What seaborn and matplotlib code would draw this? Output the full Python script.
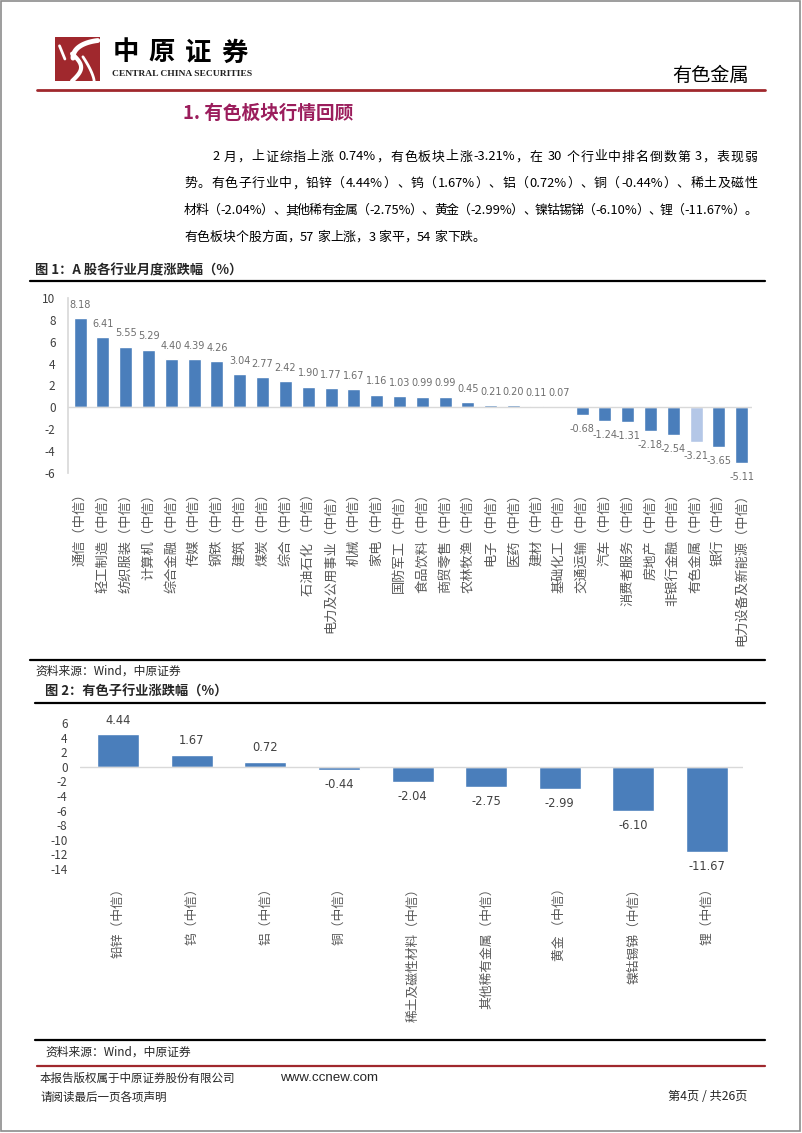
import re
import numpy as np
import pandas as pd
import matplotlib
matplotlib.use('Agg')
import matplotlib.pyplot as plt
import seaborn as sns
from matplotlib.patches import Rectangle

# 图1 数据
industry = ['通信', '轻工制造', '纺织服装', '计算机', '综合金融', '传媒', '钢铁', '建筑', '煤炭', '综合',
            '石油石化 ', '电力及公用事业', '机械', '家电', '国防军工', '食品饮料', '商贸零售', '农林牧渔',
            '电子', '医药', '建材', '基础化工', '交通运输', '汽车', '消费者服务', '房地产', '非银行金融',
            '有色金属', '银行', '电力设备及新能源']
industry_chg = [8.18, 6.41, 5.55, 5.29, 4.40, 4.39, 4.26, 3.04, 2.77, 2.42, 1.90, 1.77, 1.67, 1.16, 1.03,
                0.99, 0.99, 0.45, 0.21, 0.20, 0.11, 0.07, -0.68, -1.24, -1.31, -2.18, -2.54, -3.21, -3.65, -5.11]
highlight = '有色金属'

# 图2 数据
sub_industry = ['铅锌', '钨', '铝', '铜', '稀土及磁性材料', '其他稀有金属', '黄金 ', '镍钴锡锑', '锂']
sub_chg = [4.44, 1.67, 0.72, -0.44, -2.04, -2.75, -2.99, -6.10, -11.67]

W, H = 802, 1133
BLUE = '#4A7EBB'
LIGHT = '#B4C7E7'
RED = '#A0282D'
GREY_LINE = '#D9D9D9'

sns.set_theme(style='white')
plt.rcParams['font.family'] = ['Noto Sans CJK SC', 'DejaVu Sans']
plt.rcParams['axes.unicode_minus'] = False

fig = plt.figure(figsize=(W / 100, H / 100), dpi=100)
renderer = fig.canvas.get_renderer()


def fx(x):
    return x / W


def fy(y):
    return 1 - y / H


def hline(y, x0, x1, color, lw):
    fig.add_artist(plt.Line2D([fx(x0), fx(x1)], [fy(y), fy(y)], color=color, lw=lw))


def text_width(s, fs):
    t = fig.text(0, 0, 'x' + s + 'x', fontsize=fs)
    w = t.get_window_extent(renderer).width
    t.remove()
    t = fig.text(0, 0, 'xx', fontsize=fs)
    w -= t.get_window_extent(renderer).width
    t.remove()
    return w


def justify(x0, x1, y, line, fs, stretch=True):
    tokens = re.findall(r'[A-Za-z0-9.%\-]+|\s|.', line)
    widths = [text_width(tk, fs) for tk in tokens]
    extra = (x1 - x0 - sum(widths)) / (len(tokens) - 1) if stretch else 0
    x = x0
    for tk, w in zip(tokens, widths):
        if not tk.isspace():
            fig.text(fx(x), fy(y), tk, fontsize=fs, va='center', ha='left', color='black')
        x += w + extra


# 页面边框
fig.add_artist(Rectangle((fx(1), fy(1131)), fx(799), 1130 / H, fill=False, ec='#8C8C8C', lw=1.2))

# logo
lax = fig.add_axes([fx(55), fy(81), fx(45), 44 / H])
lax.set_xlim(0, 1)
lax.set_ylim(0, 1)
lax.axis('off')
lax.add_patch(Rectangle((0, 0), 1, 1, color=RED))
t = np.linspace(0, 1, 50)
lax.plot(0.95 - 0.55 * np.sin(t * np.pi / 2), 0.92 - 0.3 * t ** 2 - 0.1 * t, color='white', lw=3.5)
lax.plot(0.38 + 0.2 * np.sin(t * np.pi), 0.62 - 0.62 * t, color='white', lw=3)
lax.plot(0.62 + 0.25 * (1 - t), 0.0 + 0.55 * t ** 0.7, color='white', lw=2)
lax.plot(0.1 + 0.12 * t, 0.8 - 0.3 * t, color='white', lw=2)

for i, ch in enumerate('中原证券'):
    fig.text(fx(126 + 36 * i), fy(53), ch, fontsize=19, fontweight='bold', ha='center', va='center',
             color='black')
fig.text(fx(112), fy(74), 'CENTRAL CHINA SECURITIES', fontsize=6.8, fontweight='bold',
         family='Liberation Serif', va='center', color='#222222')
fig.text(fx(749), fy(75), '有色金属', fontsize=13.8, ha='right', va='center', color='black')
hline(89.5, 37, 765, RED, 2)

# 标题与正文
fig.text(fx(183), fy(113), '1. 有色板块行情回顾', fontsize=13.4, fontweight='bold', va='center',
         color='#9B1D5C')
para = [
    (212, '2 月，上证综指上涨 0.74%，有色板块上涨-3.21%，在 30 个行业中排名倒数第 3，表现弱'),
    (184, '势。有色子行业中，铅锌（4.44%）、钨（1.67%）、铝（0.72%）、铜（-0.44%）、稀土及磁性'),
    (184, '材料（-2.04%）、其他稀有金属（-2.75%）、黄金（-2.99%）、镍钴锡锑（-6.10%）、锂（-11.67%）。'),
    (184, '有色板块个股方面，57 家上涨，3 家平，54 家下跌。'),
]
for k, (x0, line) in enumerate(para):
    justify(x0, 757, 157 + 26.7 * k, line, 9.3, stretch=(k < 3))

# 图1
fig.text(fx(35), fy(270), '图 1：A 股各行业月度涨跌幅（%）', fontsize=9.5, fontweight='bold', va='center')
hline(281, 30, 765, 'black', 1.6)

df1 = pd.DataFrame({'industry': [s + '（中信）' for s in industry], 'chg': industry_chg})
pal1 = {s + '（中信）': (LIGHT if s == highlight else BLUE) for s in industry}
ax1 = fig.add_axes([fx(68), fy(473), fx(752 - 68), 175 / H])
sns.barplot(data=df1, x='industry', y='chg', hue='industry', palette=pal1, legend=False,
            width=0.57, saturation=1, ax=ax1)
ax1.set_xlim(-0.53, 29.45)
ax1.set_ylim(-6, 10)
ax1.set_yticks(range(-6, 11, 2))
ax1.axhline(0, color=GREY_LINE, lw=1)
for s in ['top', 'right', 'bottom']:
    ax1.spines[s].set_visible(False)
ax1.spines['left'].set_color(GREY_LINE)
ax1.tick_params(axis='y', length=0, pad=9, labelsize=8.5, labelcolor='#404040')
ax1.tick_params(axis='x', length=0, pad=10, labelsize=9.5, labelcolor='#595959')
ax1.set_xticks(range(len(industry)))
ax1.set_xticklabels(df1['industry'], rotation=90, va='top', ha='center')
ax1.set_xlabel('')
ax1.set_ylabel('')
for i, v in enumerate(industry_chg):
    ax1.annotate(f'{v:.2f}', (i, v), xytext=(0, 9.5 if v >= 0 else -10), textcoords='offset points',
                 ha='center', va='center', fontsize=7, color='#6E6E6E', family='DejaVu Sans')

fig.text(fx(35), fy(671), '资料来源：Wind，中原证券', fontsize=8.5, va='center')
hline(659.5, 30, 765, 'black', 1.6)

# 图2
fig.text(fx(45), fy(692), '图 2：有色子行业涨跌幅（%）', fontsize=9.5, fontweight='bold', va='center')
hline(703, 35, 765, 'black', 1.6)

df2 = pd.DataFrame({'sub': [s + '（中信）' for s in sub_industry], 'chg': sub_chg})
ax2 = fig.add_axes([fx(80), fy(869), fx(743 - 80), 146 / H])
sns.barplot(data=df2, x='sub', y='chg', color=BLUE, width=0.57, saturation=1, ax=ax2)
ax2.set_xlim(-0.52, 8.49)
ax2.set_ylim(-14, 6)
ax2.set_yticks(range(-14, 7, 2))
ax2.axhline(0, color=GREY_LINE, lw=1)
sns.despine(ax=ax2, left=True, bottom=True)
ax2.tick_params(axis='y', length=0, pad=9, labelsize=8.5, labelcolor='#404040')
ax2.tick_params(axis='x', length=0, pad=9, labelsize=9.2, labelcolor='#595959')
ax2.set_xticks(range(len(sub_industry)))
ax2.set_xticklabels(df2['sub'], rotation=90, va='top', ha='center')
ax2.set_xlabel('')
ax2.set_ylabel('')
for i, v in enumerate(sub_chg):
    ax2.annotate(f'{v:.2f}', (i, v), xytext=(0, 10 if v >= 0 else -10.5), textcoords='offset points',
                 ha='center', va='center', fontsize=8.3, color='#404040', family='DejaVu Sans')

hline(1040, 35, 765, 'black', 1.6)
fig.text(fx(45), fy(1052), '资料来源：Wind，中原证券', fontsize=8.5, va='center')
hline(1066, 37, 765, RED, 1.6)

# 页脚
fig.text(fx(40), fy(1078), '本报告版权属于中原证券股份有限公司', fontsize=8.3, va='center')
fig.text(fx(280), fy(1078), 'www.ccnew.com', fontsize=9.6, va='center', family='Liberation Sans')
fig.text(fx(40), fy(1097), '请阅读最后一页各项声明', fontsize=8.3, va='center')
fig.text(fx(748), fy(1097), '第4页 / 共26页', fontsize=8.8, va='center', ha='right')

fig.savefig('out.png', dpi=100)
